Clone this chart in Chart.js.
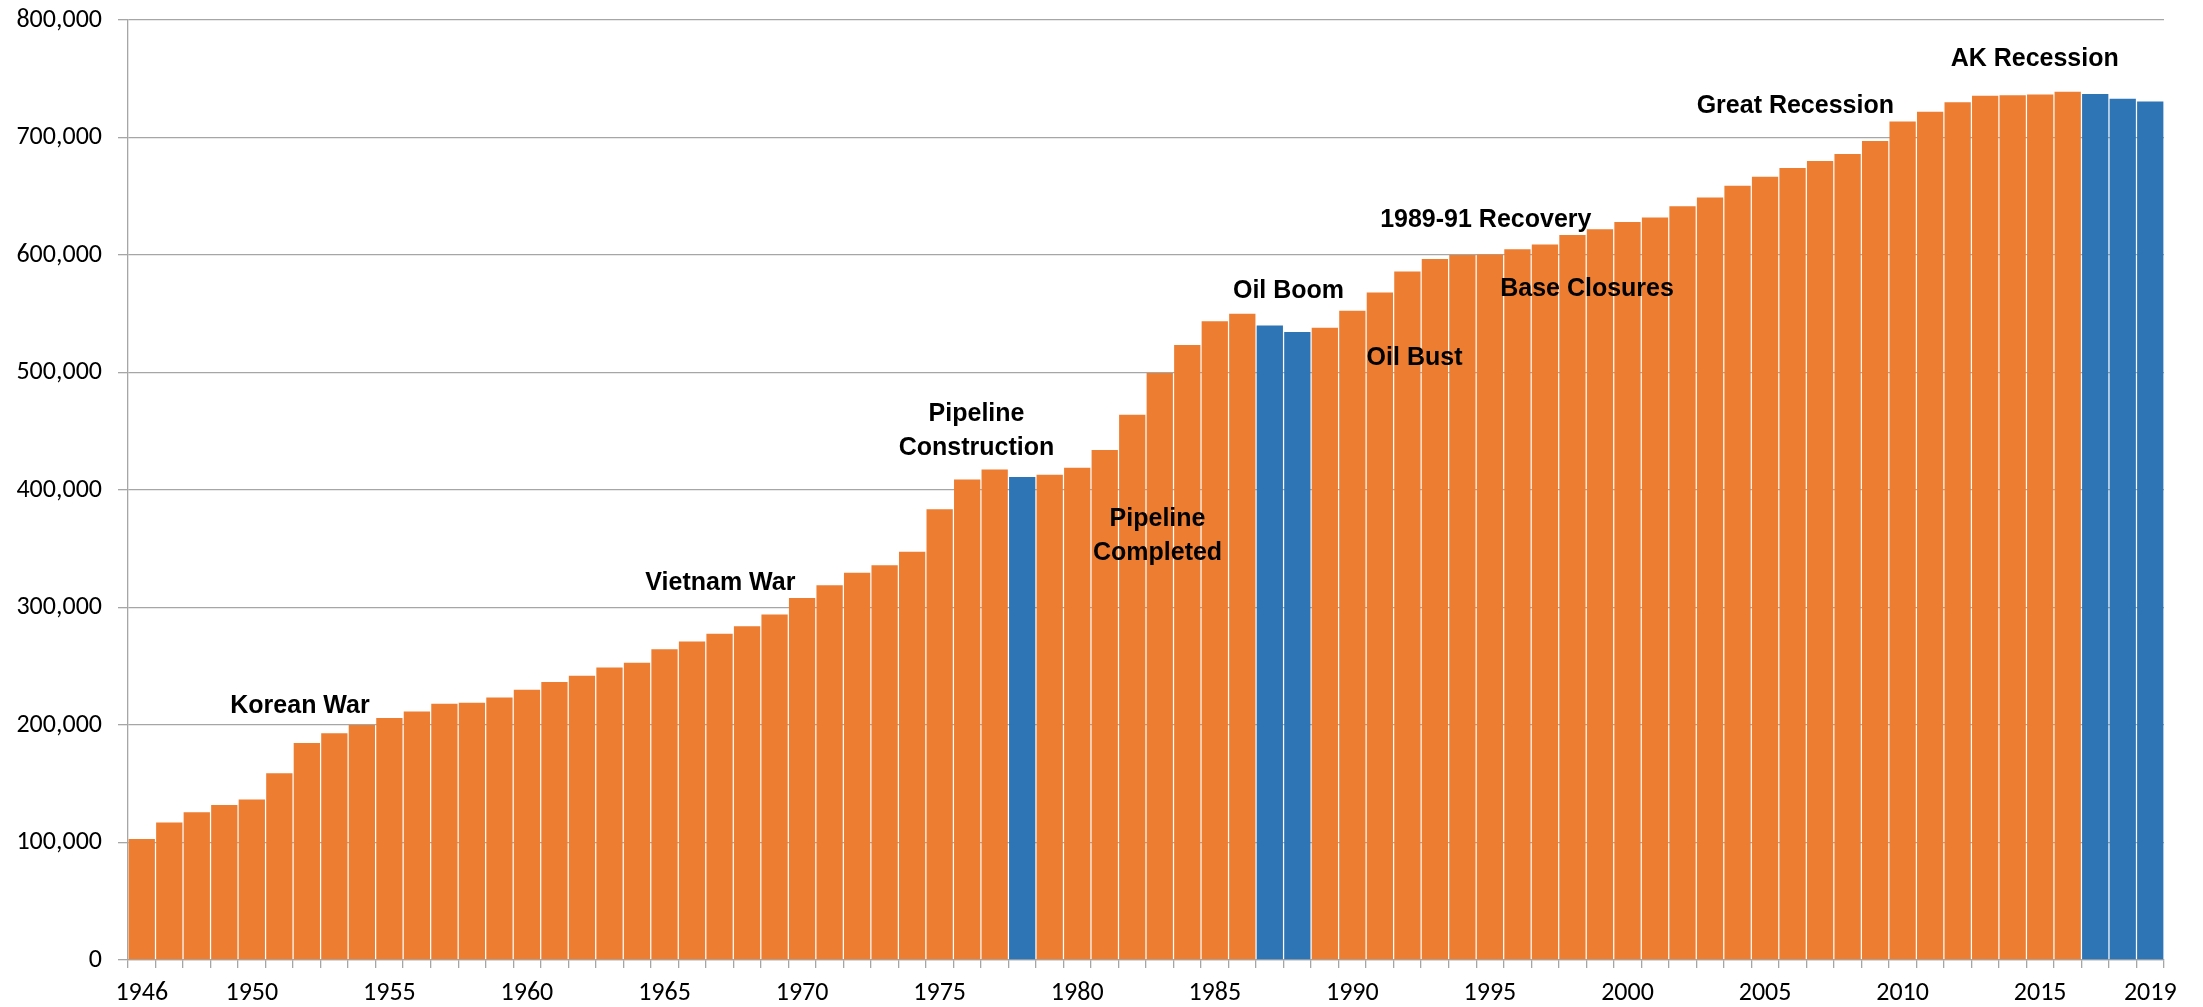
<!DOCTYPE html>
<html>
<head>
<meta charset="utf-8">
<script src="https://cdn.jsdelivr.net/npm/chart.js@4/dist/chart.umd.min.js"></script>
<style>
  html, body { margin: 0; padding: 0; background: #fff; }
  #wrap { width: 2203px; height: 1007px; position: relative; }
</style>
</head>
<body>
<div id="wrap"><canvas id="popChart"></canvas></div>
<script>
// Alaska population by year, 1946-2019
const years = [];
for (let y = 1946; y <= 2019; y++) years.push(String(y));

const population = [
  103000, 117000, 125700, 132000, 136600, 159000, 184700, 193000, 200000, 206000,
  211500, 218000, 219000, 223500, 230000, 236600, 242000, 249000, 253000, 264500,
  271000, 277600, 284000, 294000, 308000, 319000, 329500, 336000, 347500, 383600,
  409000, 417500, 411000, 413000, 419000, 434000, 464000, 499500, 523500, 543700,
  550000, 540000, 534400, 538000, 552500, 568000, 586000, 596700, 600000, 600500,
  605000, 609000, 617000, 622000, 628000, 632000, 641500, 649000, 659000, 666700,
  674000, 680000, 686000, 697000, 713700, 722000, 730000, 735500, 736000, 736600,
  739000, 737000, 733000, 730600
];

// years that lost population are drawn in blue
const declineYears = ['1978', '1987', '1988', '2017', '2018', '2019'];

const shownYears = ['1946', '1950', '1955', '1960', '1965', '1970', '1975', '1980',
  '1985', '1990', '1995', '2000', '2005', '2010', '2015', '2019'];

// event labels: text lines, x position (fractional year), y position (population)
const eventTexts = [['Korean War'], ['Vietnam War'], ['Pipeline', 'Construction'],
  ['Pipeline', 'Completed'], ['Oil Boom'], ['Oil Bust'], ['1989-91 Recovery'],
  ['Base Closures'], ['Great Recession'], ['AK Recession']];
const eventYears = [1951.75, 1967.03, 1976.34, 1982.92, 1987.68, 1992.26, 1994.85, 1998.53, 2006.1, 2014.8];
const eventValues = [215700, 320800, 450000, 360800, 569400, 512600, 629800, 571000, 726800, 766800];

const ORANGE = '#ED7D31';
const BLUE = '#2E75B6';
const GRID = '#a6a6a6';
const tickFont = { family: 'Carlito, Calibri, "Liberation Sans", sans-serif', size: 26 };

const eventLabels = {
  id: 'eventLabels',
  afterDatasetsDraw(chart) {
    const { ctx, scales: { x, y } } = chart;
    ctx.save();
    ctx.fillStyle = '#000';
    ctx.font = 'bold 25px "Liberation Sans", Arial, sans-serif';
    ctx.textAlign = 'center';
    ctx.textBaseline = 'middle';
    const lineH = 34;
    eventTexts.forEach((lines, i) => {
      const px = x.getPixelForValue(eventYears[i] - 1946);
      const py = y.getPixelForValue(eventValues[i]);
      const top = py - (lines.length - 1) * lineH / 2;
      lines.forEach((t, j) => ctx.fillText(t, px, top + j * lineH));
    });
    ctx.restore();
  }
};

new Chart(document.getElementById('popChart'), {
  type: 'bar',
  data: {
    labels: years,
    datasets: [{
      label: 'Population',
      data: population,
      backgroundColor: years.map(y => declineYears.includes(y) ? BLUE : ORANGE),
      barPercentage: 0.955,
      categoryPercentage: 1,
      borderWidth: 0
    }]
  },
  options: {
    responsive: true,
    maintainAspectRatio: false,
    animation: false,
    layout: { padding: { left: 0, right: 39, top: 20, bottom: 0 } },
    plugins: { legend: { display: false }, tooltip: { enabled: false } },
    scales: {
      x: {
        grid: { drawOnChartArea: false, drawTicks: true, tickLength: 8, color: GRID, lineWidth: 1.3 },
        border: { color: GRID, width: 1.3 },
        ticks: {
          autoSkip: false, maxRotation: 0, color: '#000', font: tickFont, padding: 10,
          callback: function(val) {
            const lab = this.getLabelForValue(val);
            return shownYears.includes(lab) ? lab : '';
          }
        },
        afterFit: s => { s.height = 47; s.paddingLeft = 0; s.paddingRight = 0; }
      },
      y: {
        min: 0, max: 800000,
        grid: { color: GRID, lineWidth: 1.3, tickLength: 10 },
        border: { color: GRID, width: 1.3 },
        ticks: {
          stepSize: 100000, color: '#000', font: tickFont, padding: 16,
          callback: v => v.toLocaleString('en-US')
        },
        afterFit: s => { s.width = 128; s.paddingTop = 0; s.paddingBottom = 0; }
      }
    }
  },
  plugins: [eventLabels]
});
</script>
</body>
</html>
